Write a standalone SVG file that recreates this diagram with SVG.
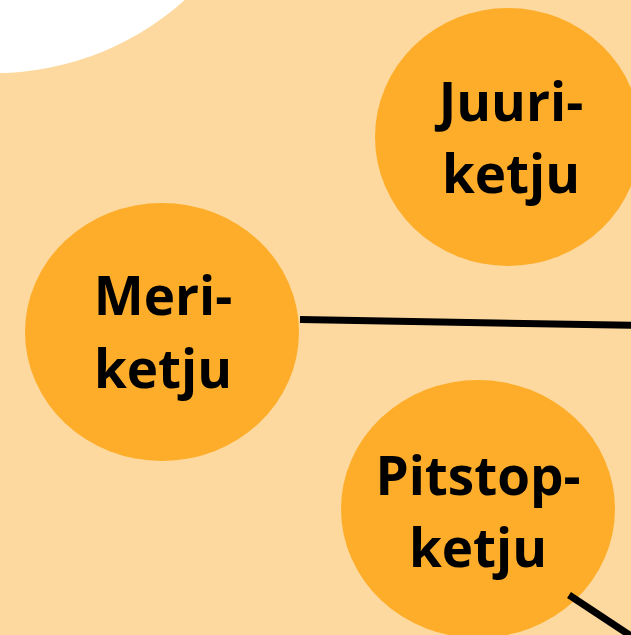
<svg xmlns="http://www.w3.org/2000/svg" width="631" height="635" viewBox="0 0 631 635">
<style>
.node ellipse{fill:#FDAD29}
.lbl{font-family:"Open Sans","Noto Sans",sans-serif;font-weight:bold;font-size:53px;fill:#000;text-anchor:middle}
.edge{stroke:#000;stroke-width:7;fill:none}
</style>
<rect width="631" height="635" fill="#FED99F"/>
<circle cx="-5" cy="-210" r="283" fill="#FFFFFF"/>
<g id="juuri" class="node">
<ellipse cx="508" cy="137" rx="133" ry="129"/>
<text class="lbl" x="511" y="121">Juuri-</text>
<text class="lbl" x="511" y="193">ketju</text>
</g>
<g id="meri" class="node">
<ellipse cx="162" cy="332" rx="137" ry="129"/>
<text class="lbl" x="163" y="315">Meri-</text>
<text class="lbl" x="163" y="388">ketju</text>
</g>
<g id="pitstop" class="node">
<ellipse cx="478" cy="509" rx="137" ry="129"/>
<text class="lbl" x="478" y="495">Pitstop-</text>
<text class="lbl" x="478" y="567">ketju</text>
</g>
<g id="connectors">
<line class="edge" x1="300" y1="319.5" x2="640" y2="325.5"/>
<line class="edge" x1="569" y1="595" x2="640" y2="642"/>
</g>
</svg>
